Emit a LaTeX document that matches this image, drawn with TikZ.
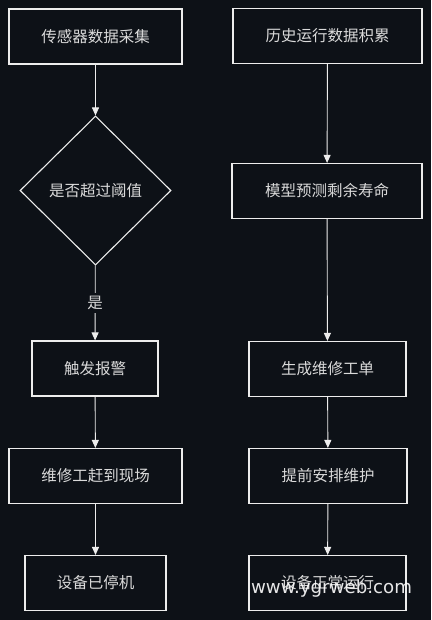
\documentclass[tikz,border=0pt]{standalone}
\usepackage{fontspec}
\setmainfont{Noto Sans CJK SC}
\newfontfamily\markfont{DejaVu Sans}
\usetikzlibrary{shapes.geometric,arrows.meta}
\definecolor{bgdark}{HTML}{0D1117}
\definecolor{inkline}{HTML}{EDEDED}
\definecolor{inktext}{HTML}{DADADA}

\begin{document}
\begin{tikzpicture}[
    x=1pt, y=-1pt,
    boxnode/.style={draw=inkline, line width=1.1pt, fill=bgdark, text=inktext,
        font=\fontsize{15.5}{18}\selectfont, inner sep=0pt, minimum height=55pt},
    decnode/.style={diamond, draw=inkline, line width=1.1pt, fill=bgdark, text=inktext,
        font=\fontsize{15.5}{18}\selectfont, inner sep=0pt, minimum width=151pt, minimum height=149pt},
    flow/.style={draw=inkline, line width=0.9pt, -{Triangle[length=8pt,width=7pt]}}
]
% Canvas
\useasboundingbox (0,0) rectangle (431,620);
\fill[bgdark] (0,0) rectangle (431,620);

% Left column: threshold alarm
\node[boxnode, minimum width=173pt] (sense) at (95.5,36.5) {传感器数据采集};
\node[decnode] (judge) at (95.5,190.5) {是否超过阈值};
\node[boxnode, minimum width=126pt] (alarm) at (95,368.5) {触发报警};
\node[boxnode, minimum width=173pt] (rush) at (95.5,476) {维修工赶到现场};
\node[boxnode, minimum width=141pt] (stopped) at (95.5,583) {设备已停机};

% Right column: predictive maintenance
\node[boxnode, minimum width=189pt] (history) at (327.5,36) {历史运行数据积累};
\node[boxnode, minimum width=190pt] (predict) at (327,191) {模型预测剩余寿命};
\node[boxnode, minimum width=157pt] (order) at (327.5,369) {生成维修工单};
\node[boxnode, minimum width=158pt] (plan) at (328,476) {提前安排维护};
\node[boxnode, minimum width=157pt] (running) at (327.5,583) {设备正常运行};

% Connectors
\draw[flow] (sense) -- (judge);
\draw[flow] (judge) -- node[fill=bgdark, text=inktext, font=\fontsize{15.5}{18}\selectfont, inner sep=3pt] {是} (alarm);
\draw[flow] (alarm) -- (rush);
\draw[flow] (rush) -- (stopped);
\draw[flow] (history) -- (predict);
\draw[flow] (predict) -- (order);
\draw[flow] (order) -- (plan);
\draw[flow] (plan) -- (running);

% Watermark
\node[font=\markfont\fontsize{18.2}{20}\selectfont, text=white, opacity=0.9] (mark) at (331.5,588) {www.ygrweb.com};

\end{tikzpicture}
\end{document}
